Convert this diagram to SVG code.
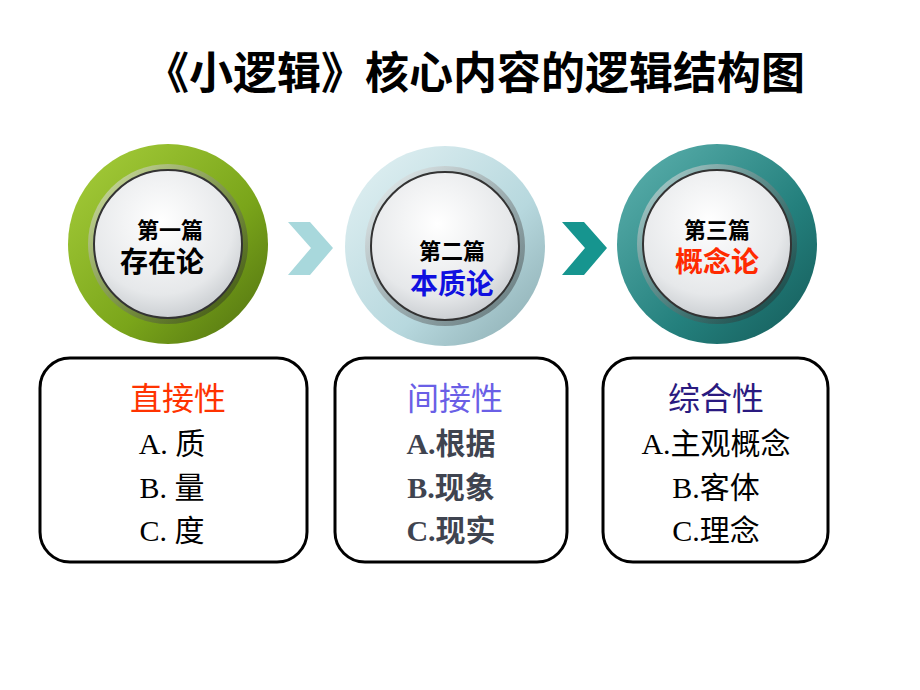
<svg xmlns="http://www.w3.org/2000/svg" width="920" height="690" viewBox="0 0 920 690">
<defs>
<radialGradient id="inner" cx="0.45" cy="0.35" r="0.7"><stop offset="0" stop-color="#ffffff"/><stop offset="0.7" stop-color="#e6e8ea"/><stop offset="1" stop-color="#c4c8cc"/></radialGradient>
<linearGradient id="g1" x1="0" y1="0" x2="1" y2="1"><stop offset="0" stop-color="#a8cf3c"/><stop offset="0.6" stop-color="#7aa51a"/><stop offset="1" stop-color="#4f6f10"/></linearGradient>
<linearGradient id="g2" x1="0" y1="0" x2="1" y2="1"><stop offset="0" stop-color="#e4f2f4"/><stop offset="0.6" stop-color="#b7d8de"/><stop offset="1" stop-color="#88a9ae"/></linearGradient>
<linearGradient id="g3" x1="0" y1="0" x2="1" y2="1"><stop offset="0" stop-color="#5fb3b0"/><stop offset="0.6" stop-color="#24807d"/><stop offset="1" stop-color="#145a58"/></linearGradient>
<linearGradient id="rim" x1="0" y1="0" x2="1" y2="1"><stop offset="0" stop-color="#ffffff" stop-opacity="0.6"/><stop offset="1" stop-color="#000000" stop-opacity="0.35"/></linearGradient>
</defs>
<style>
text{font-family:"Liberation Serif","Noto Sans CJK SC",serif;text-anchor:middle}
.box{fill:#fff;stroke:#000;stroke-width:3}
.small{font-size:22px;fill:#000;font-weight:bold}
.big{font-size:28px;font-weight:bold}
.head{font-size:32px}
.item{font-size:30px;fill:#000}
</style>
<text x="475" y="89" style="font-size:44px;font-weight:bold;font-family:'Noto Sans CJK SC',sans-serif">《小逻辑》核心内容的逻辑结构图</text>
<g id="connectors">
<polygon points="288,222 310,222 333,248 310,275 288,275 311,248" fill="#a8d8dc"/>
<polygon points="562,222 584,222 607,248 584,275 562,275 585,248" fill="#16958f"/>
</g>
<g id="c1">
<circle cx="168" cy="244" r="100" fill="url(#g1)"/>
<circle cx="168" cy="244" r="80" fill="url(#rim)"/>
<circle cx="168" cy="244" r="74" fill="url(#inner)" stroke="#333" stroke-width="2"/>
<text x="170" y="238" class="small">第一篇</text>
<text x="162" y="272" class="big" fill="#000">存在论</text>
</g>
<g id="c2">
<circle cx="445" cy="246" r="100" fill="url(#g2)"/>
<circle cx="445" cy="246" r="80" fill="url(#rim)"/>
<circle cx="445" cy="246" r="74" fill="url(#inner)" stroke="#333" stroke-width="2"/>
<text x="452" y="259" class="small">第二篇</text>
<text x="452" y="294" class="big" fill="#1010e0">本质论</text>
</g>
<g id="c3">
<circle cx="717" cy="244" r="100" fill="url(#g3)"/>
<circle cx="717" cy="244" r="80" fill="url(#rim)"/>
<circle cx="717" cy="244" r="74" fill="url(#inner)" stroke="#333" stroke-width="2"/>
<text x="717" y="238" class="small">第三篇</text>
<text x="717" y="272" class="big" fill="#ff2a00">概念论</text>
</g>
<g id="b1">
<rect x="40" y="358" width="267" height="204" rx="30" class="box"/>
<text x="178" y="410" class="head" fill="#ff3300">直接性</text>
<text x="172" y="454" class="item">A.  质</text>
<text x="172" y="498" class="item">B.  量</text>
<text x="172" y="541" class="item">C.  度</text>
</g>
<g id="b2">
<rect x="335" y="358" width="232" height="204" rx="30" class="box"/>
<text x="455" y="410" class="head" fill="#6a5fe6">间接性</text>
<text x="451" y="454" class="item" style="fill:#3f4450;font-weight:bold">A.根据</text>
<text x="451" y="498" class="item" style="fill:#3f4450;font-weight:bold">B.现象</text>
<text x="451" y="541" class="item" style="fill:#3f4450;font-weight:bold">C.现实</text>
</g>
<g id="b3">
<rect x="603" y="358" width="225" height="204" rx="30" class="box"/>
<text x="716" y="410" class="head" fill="#2a1a80">综合性</text>
<text x="716" y="454" class="item">A.主观概念</text>
<text x="716" y="498" class="item">B.客体</text>
<text x="716" y="541" class="item">C.理念</text>
</g>
</svg>
